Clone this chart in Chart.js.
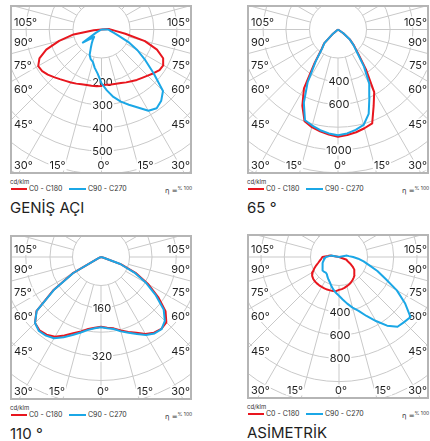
<!DOCTYPE html>
<html>
<head>
<meta charset="utf-8">
<script src="https://cdn.jsdelivr.net/npm/chart.js@4.4.1/dist/chart.umd.min.js"></script>
<style>
  html, body { margin: 0; padding: 0; background: #fff; }
  body { width: 430px; height: 441px; position: relative; overflow: hidden; font-family: Inter, sans-serif; color: #1e1e1e; }
  .box { position: absolute; }
  .box canvas { display: block; }
  .unit { position: absolute; font-size: 6px; line-height: 7px; color: #333; }
  .sw { position: absolute; height: 2px; }
  .lg { position: absolute; font-size: 7px; line-height: 8px; color: #333; white-space: nowrap; }
  .eta { position: absolute; font-family: "DejaVu Sans", sans-serif; font-size: 7px; line-height: 9px; color: #333; white-space: nowrap; }
  .eta sup { font-family: Inter, sans-serif; font-size: 5px; vertical-align: 3px; color: #333; }
  .title { position: absolute; font-size: 15px; line-height: 18px; color: #1e1e1e; white-space: nowrap; }
</style>
</head>
<body>
<script>
  // every intensity list starts at gamma 0 (nadir) and steps by this many degrees
  const GAMMA_STEP = 5;

  // GENİŞ AÇI (cd/klm)
  const P1_C0   = [215, 214, 215, 217, 220, 226, 232, 240, 247, 256, 268, 280, 283, 268, 229, 168, 78, 30, 12, 4];
  const P1_C180 = [218, 220, 221, 222, 226, 232, 238, 245, 254, 265, 277, 287, 290, 270, 228, 163, 96, 7];
  const P1_C90  = [206, 238, 270, 297, 320, 346, 380, 390, 376, 350, 268, 205, 153, 102, 53, 27, 14, 7, 2];
  const P1_C270 = [206, 165, 142, 118, 110, 95, 66, 47, 32, 18, 34, 72, 0];

  // 65°
  const P2_C0   = [884, 872, 858, 840, 820, 683, 578, 370, 215, 140, 78, 0];
  const P2_C180 = [884, 868, 850, 830, 800, 683, 540, 300, 165, 115, 0];
  const P2_C90  = [870, 858, 837, 810, 730, 595, 491, 341, 201, 134, 76, 0];
  const P2_C270 = [870, 858, 840, 815, 790, 652, 475, 284, 159, 112, 0];

  // 110°
  const P3_C0   = [222, 226, 231, 243, 255, 268, 285, 297, 302, 297, 270, 222, 172, 120, 62, 0];
  const P3_C180 = [222, 226, 233, 246, 260, 278, 296, 305, 308, 300, 270, 185, 100, 0];
  const P3_C90  = [224, 228, 233, 246, 258, 272, 289, 300, 303, 290, 262, 213, 164, 113, 59, 0];
  const P3_C270 = [224, 228, 236, 250, 266, 284, 302, 309, 311, 300, 269, 182, 97, 0];

  // ASİMETRİK
  const P4_C0   = [213, 207, 199, 190, 182, 172, 161, 149, 137, 119, 99, 73, 40, 8, 0];
  const P4_C180 = [213, 225, 226, 227, 228, 228, 227, 227, 226, 225, 220, 212, 192, 165, 138, 113, 96, 82, 73, 26, 7];
  const P4_C90  = [263, 296, 337, 380, 422, 489, 565, 650, 712, 721, 732, 622, 504, 368, 281, 198, 145, 96, 52, 16, 0];
  const P4_C270 = [263, 239, 213, 187, 161, 144, 128, 112, 106, 111, 110, 103, 95, 88, 80, 70, 61, 52, 43, 15, 0];

  // ring values and which of them get a label
  const P1_RINGS = [100, 200, 300, 400, 500, 600, 700];
  const P1_RING_LABELS = [200, 300, 400, 500];
  const P2_RINGS = [200, 400, 600, 800, 1000, 1200, 1400];
  const P2_RING_LABELS = [400, 600, 1000];
  const P3_RINGS = [80, 160, 240, 320, 400, 480, 560];
  const P3_RING_LABELS = [160, 320];
  const P4_RINGS = [200, 400, 600, 800, 1000, 1200, 1400];
  const P4_RING_LABELS = [400, 600, 800];

  // angle tick labels
  const SIDE_TICKS = [105, 90, 75, 60, 45];
  const BOTTOM_TICKS = [30, 15, 0, 15, 30];

  const RED = '#e8161e';
  const BLUE = '#1ba7e6';
  const GRID = '#c9c9c9';
  const INNER_R = 28.5;
  const SIDE_TICK_DY = [-7.5, 12.5, 35.5, 59.5, 94.5];

  const panels = [
    { title: 'GENİŞ AÇI', box: [10, 5, 192, 174], pole: [101.5, 29.5], pxPerCd: 0.2307, offset: 6.2,
      rings: P1_RINGS, ringLabels: P1_RING_LABELS, red: [P1_C180, P1_C0], blue: [P1_C270, P1_C90] },
    { title: '65 °', box: [247, 5, 429, 174], pole: [338, 29.5], pxPerCd: 0.114, offset: 6.5,
      rings: P2_RINGS, ringLabels: P2_RING_LABELS, red: [P2_C180, P2_C0], blue: [P2_C270, P2_C90] },
    { title: '110 °', box: [10, 235, 192, 400], pole: [101, 257], pxPerCd: 0.302, offset: 2.7,
      rings: P3_RINGS, ringLabels: P3_RING_LABELS, red: [P3_C180, P3_C0], blue: [P3_C270, P3_C90] },
    { title: 'ASİMETRİK', box: [247, 234, 429, 399], pole: [339, 257], pxPerCd: 0.1165, offset: 8.1,
      rings: P4_RINGS, ringLabels: P4_RING_LABELS, red: [P4_C180, P4_C0], blue: [P4_C270, P4_C90] }
  ];

  // starts and ends at the luminaire centre: left half 180 -> 0, right half 0 -> 180
  function loop(left, right, c) {
    const pts = [{ x: 0, y: 0 }];
    for (let i = left.length - 1; i >= 0; i--) {
      const g = i * GAMMA_STEP * Math.PI / 180, r = left[i] + c;
      pts.push({ x: -r * Math.sin(g), y: -r * Math.cos(g) });
    }
    for (let i = 0; i < right.length; i++) {
      const g = i * GAMMA_STEP * Math.PI / 180, r = right[i] + c;
      pts.push({ x: r * Math.sin(g), y: -r * Math.cos(g) });
    }
    pts.push({ x: 0, y: 0 });
    return pts;
  }

  function labelBox(ctx, text, x, y, align) {
    const w = ctx.measureText(text).width;
    let left = x - w / 2;
    if (align === 'left') left = x;
    if (align === 'right') left = x - w;
    ctx.fillStyle = '#fff';
    ctx.fillRect(left - 1, y - 5.5, w + 2, 11);
    ctx.fillStyle = '#1e1e1e';
    ctx.textAlign = align;
    ctx.fillText(text, x, y + 0.5);
  }

  const polarGrid = {
    id: 'polarGrid',
    beforeDatasetsDraw(chart, args, opts) {
      const p = opts.panel;
      const { ctx, chartArea: ca, scales: { x, y } } = chart;
      const cx = x.getPixelForValue(0), cy = y.getPixelForValue(0);
      const unit = x.getPixelForValue(1) - cx;
      ctx.save();
      ctx.beginPath();
      ctx.rect(ca.left, ca.top, ca.right - ca.left, ca.bottom - ca.top);
      ctx.clip();
      ctx.strokeStyle = GRID;
      ctx.lineWidth = 1;
      for (let g = 0; g < 360; g += 15) {
        const t = g * Math.PI / 180;
        ctx.beginPath();
        ctx.moveTo(cx + INNER_R * Math.sin(t), cy + INNER_R * Math.cos(t));
        ctx.lineTo(cx + 400 * Math.sin(t), cy + 400 * Math.cos(t));
        ctx.stroke();
      }
      p.rings.forEach(v => {
        const r = (v + p.c) * unit;
        if (r < INNER_R + 4) return;
        ctx.beginPath();
        ctx.arc(cx, cy, r, 0, Math.PI * 2);
        ctx.stroke();
      });
      ctx.beginPath();
      ctx.arc(cx, cy, INNER_R, 0, Math.PI * 2);
      ctx.stroke();

      ctx.font = '11px Inter';
      ctx.textBaseline = 'middle';
      p.ringLabels.forEach(v => {
        labelBox(ctx, String(v), cx + 1, cy + (v + p.c) * unit, 'center');
      });
      SIDE_TICKS.forEach((a, i) => {
        const ty = cy + SIDE_TICK_DY[i];
        labelBox(ctx, a + '°', ca.left + 4, ty, 'left');
        labelBox(ctx, a + '°', ca.right - 2, ty, 'right');
      });
      const by = ca.bottom - 9;
      labelBox(ctx, BOTTOM_TICKS[0] + '°', ca.left + 4, by, 'left');
      labelBox(ctx, BOTTOM_TICKS[1] + '°', cx - 44, by, 'center');
      labelBox(ctx, BOTTOM_TICKS[2] + '°', cx + 2, by, 'center');
      labelBox(ctx, BOTTOM_TICKS[3] + '°', cx + 44, by, 'center');
      labelBox(ctx, BOTTOM_TICKS[4] + '°', ca.right - 2, by, 'right');
      ctx.restore();
    },
    afterDraw(chart) {
      const { ctx, width, height } = chart;
      ctx.save();
      ctx.strokeStyle = '#b5b5b5';
      ctx.lineWidth = 2;
      ctx.strokeRect(1, 1, width - 2, height - 2);
      ctx.restore();
    }
  };

  function addDiv(cls, x, y, html, extra) {
    const d = document.createElement('div');
    d.className = cls;
    d.style.left = x + 'px';
    d.style.top = y + 'px';
    if (html) d.innerHTML = html;
    if (extra) Object.assign(d.style, extra);
    document.body.appendChild(d);
    return d;
  }

  panels.forEach(p => {
    const [x0, y0, x1, y1] = p.box;
    const W = x1 - x0, H = y1 - y0, k = p.pxPerCd;
    p.c = p.offset / k;

    const wrap = addDiv('box', x0, y0);
    const canvas = document.createElement('canvas');
    canvas.width = W;
    canvas.height = H;
    wrap.appendChild(canvas);

    new Chart(canvas, {
      type: 'scatter',
      data: {
        datasets: [
          // higher order is drawn first, so the blue plane ends up on top
          { label: 'C0 - C180', data: loop(p.red[0], p.red[1], p.c), borderColor: RED, order: 2 },
          { label: 'C90 - C270', data: loop(p.blue[0], p.blue[1], p.c), borderColor: BLUE, order: 1 }
        ]
      },
      options: {
        responsive: false,
        animation: false,
        events: [],
        layout: { padding: 0 },
        showLine: true,
        elements: {
          point: { radius: 0 },
          line: { borderWidth: 2, tension: 0, fill: false, borderJoinStyle: 'round' }
        },
        scales: {
          x: { type: 'linear', display: false, bounds: 'data', min: (x0 - p.pole[0]) / k, max: (x1 - p.pole[0]) / k },
          y: { type: 'linear', display: false, bounds: 'data', min: -(y1 - p.pole[1]) / k, max: (p.pole[1] - y0) / k }
        },
        plugins: {
          legend: { display: false },
          tooltip: { enabled: false },
          polarGrid: { panel: p }
        }
      },
      plugins: [polarGrid]
    });

    // legend row under the box
    addDiv('unit', x0, y1 + 4, 'cd/klm');
    addDiv('sw', x0 + 1, y1 + 14, '', { width: '16px', background: RED });
    addDiv('lg', x0 + 19, y1 + 11, 'C0 - C180');
    addDiv('sw', x0 + 59, y1 + 14, '', { width: '17px', background: BLUE });
    addDiv('lg', x0 + 78, y1 + 11, 'C90 - C270');
    const eta = addDiv('eta', 0, y1 + 10, 'η =<sup>% 100</sup>');
    eta.style.left = (x1 - eta.offsetWidth) + 'px';
    addDiv('title', x0, y1 + 25, p.title);
  });
</script>
</body>
</html>
